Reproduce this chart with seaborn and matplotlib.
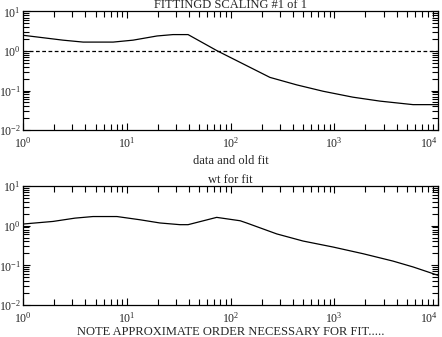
import matplotlib
matplotlib.use("Agg")
import matplotlib.pyplot as plt
import matplotlib.ticker as mticker
import numpy as np
import pandas as pd
import seaborn as sns

# Top panel: data and old fit
top_x = [1, 2.43, 3.8, 7.4, 11.5, 19.6, 27.9, 39, 75, 240, 435, 780, 1510, 2760, 5750, 10000]
top_y = [2.5, 1.88, 1.68, 1.68, 1.88, 2.4, 2.6, 2.6, 1.0, 0.215, 0.139, 0.096, 0.068, 0.054, 0.044, 0.044]
ref_level = 1.0

# Bottom panel: wt for fit
bot_x = [1, 1.95, 3.17, 4.73, 8.05, 13.4, 20.9, 32.6, 39, 73.6, 124, 143, 279, 500, 970, 1900, 3680, 5750, 10000]
bot_y = [1.1, 1.28, 1.55, 1.7, 1.7, 1.41, 1.17, 1.06, 1.06, 1.62, 1.33, 1.17, 0.62, 0.41, 0.29, 0.196, 0.128, 0.091, 0.056]

title_top = "FITTINGD SCALING #1 of 1"
xlabel_top = "data and old fit"
title_bot = "wt for fit"
xlabel_bot = "NOTE APPROXIMATE ORDER NECESSARY FOR FIT....."

sns.set_style("ticks")
plt.rcParams['font.family'] = ['Liberation Serif', 'DejaVu Serif']
plt.rcParams['mathtext.fontset'] = 'custom'
plt.rcParams['mathtext.rm'] = 'Liberation Serif'
plt.rcParams['mathtext.it'] = 'Liberation Serif:italic'
plt.rcParams['mathtext.bf'] = 'Liberation Serif:bold'
plt.rcParams['font.size'] = 9

fig = plt.figure(figsize=(4.42, 3.37), dpi=100)
ax1 = fig.add_axes([0.052, 0.614, 0.939, 0.352])
ax2 = fig.add_axes([0.052, 0.095, 0.939, 0.353])

df_top = pd.DataFrame({"x": top_x, "y": top_y})
df_bot = pd.DataFrame({"x": bot_x, "y": bot_y})

sns.lineplot(data=df_top, x="x", y="y", ax=ax1, color="black", lw=0.9, estimator=None, sort=False)
ax1.axhline(ref_level, color="black", lw=0.9, ls=(0, (3, 2)))
sns.lineplot(data=df_bot, x="x", y="y", ax=ax2, color="black", lw=0.9, estimator=None, sort=False)

for ax in (ax1, ax2):
    ax.set_xscale("log")
    ax.set_yscale("log")
    ax.set_xlim(1, 1e4)
    ax.set_ylim(1e-2, 1e1)
    ax.xaxis.set_major_locator(mticker.FixedLocator([1, 10, 100, 1000, 10000]))
    ax.xaxis.set_minor_locator(mticker.LogLocator(base=10, subs=np.arange(2, 10), numticks=20))
    ax.yaxis.set_major_locator(mticker.FixedLocator([0.01, 0.1, 1, 10]))
    ax.yaxis.set_minor_locator(mticker.LogLocator(base=10, subs=np.arange(2, 10), numticks=20))
    ax.xaxis.set_major_formatter(mticker.LogFormatterSciNotation())
    ax.yaxis.set_major_formatter(mticker.LogFormatterSciNotation())
    ax.xaxis.set_minor_formatter(mticker.NullFormatter())
    ax.yaxis.set_minor_formatter(mticker.NullFormatter())
    ax.tick_params(which="both", direction="in", top=True, right=True, color="black", width=0.8, labelsize=8.5)
    ax.tick_params(axis="x", which="both", pad=4.5)
    ax.tick_params(axis="y", which="both", pad=1.5)
    ax.tick_params(which="major", length=5)
    ax.tick_params(which="minor", length=4)
    for s in ax.spines.values():
        s.set_color("black")
        s.set_linewidth(0.9)
    ax.set_ylabel("")

ax1.set_title(title_top, fontsize=9, pad=0)
ax1.set_xlabel(xlabel_top, fontsize=9, labelpad=3)
ax2.set_title(title_bot, fontsize=9, pad=1)
ax2.set_xlabel(xlabel_bot, fontsize=9, labelpad=0)

fig.canvas.draw()
for ax in (ax1, ax2):
    for tick in ax.xaxis.get_major_ticks():
        if np.isclose(tick.get_loc(), 1e4):
            tick.label1.set_horizontalalignment("right")

fig.savefig("out.png", dpi=100)
